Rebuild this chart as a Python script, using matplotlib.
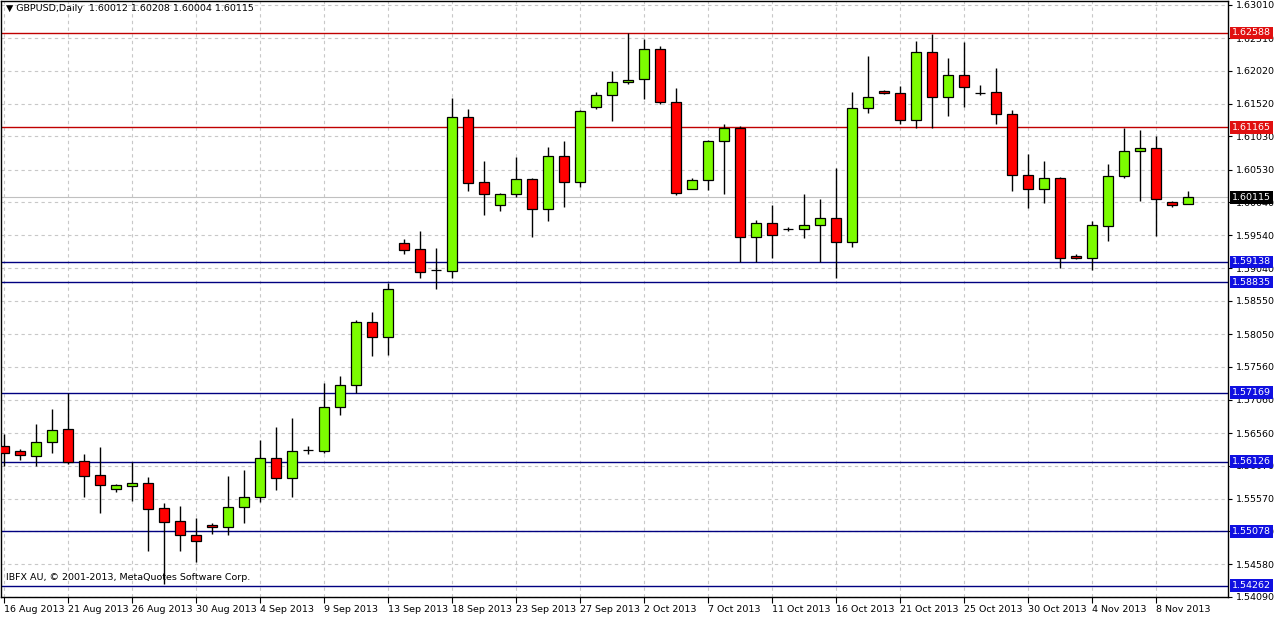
import matplotlib
matplotlib.use("Agg")
import matplotlib.pyplot as plt
import numpy as np

opens = [1.5636,1.5629,1.5621,1.5642,1.5662,1.5614,1.5593,1.5572,1.5576,1.5581,
         1.5543,1.5524,1.5503,1.5518,1.5515,1.5545,1.5560,1.5618,1.5588,1.5630,
         1.5629,1.5695,1.5729,1.5823,1.5800,1.5943,1.5934,1.5901,1.5900,1.6132,
         1.6034,1.6000,1.6016,1.6039,1.5993,1.6073,1.6035,1.6148,1.6166,1.6185,
         1.6190,1.6235,1.6155,1.6024,1.6037,1.6096,1.6116,1.5952,1.5973,1.5964,
         1.5964,1.5970,1.5980,1.5944,1.6146,1.6172,1.6169,1.6128,1.6230,1.6163,
         1.6196,1.6169,1.6170,1.6137,1.6045,1.6023,1.6041,1.5923,1.5920,1.5968,
         1.6044,1.6081,1.6086,1.6004,1.60012]
highs = [1.5655,1.5632,1.5670,1.5693,1.5716,1.5624,1.5635,1.5580,1.5612,1.5590,
         1.5551,1.5546,1.5528,1.5521,1.5591,1.5600,1.5645,1.5665,1.5678,1.5636,
         1.5731,1.5742,1.5826,1.5838,1.5882,1.5949,1.5961,1.5935,1.6161,1.6145,
         1.6066,1.6017,1.6072,1.6041,1.6087,1.6096,1.6143,1.6170,1.6202,1.6259,
         1.6250,1.6239,1.6176,1.6040,1.6097,1.6121,1.6118,1.5977,1.6000,1.5967,
         1.6016,1.6009,1.6055,1.6170,1.6224,1.6173,1.6179,1.6247,1.6257,1.6221,
         1.6245,1.6181,1.6206,1.6143,1.6076,1.6066,1.6042,1.5926,1.5976,1.6062,
         1.6116,1.6113,1.6104,1.6006,1.60208]
lows = [1.5606,1.5615,1.5606,1.5626,1.5610,1.5560,1.5536,1.5567,1.5553,1.5479,
        1.5428,1.5479,1.5461,1.5504,1.5503,1.5521,1.5552,1.5570,1.5560,1.5624,
        1.5626,1.5683,1.5716,1.5772,1.5773,1.5926,1.5890,1.5873,1.5889,1.6021,
        1.5984,1.5990,1.6012,1.5952,1.5976,1.5997,1.6027,1.6145,1.6126,1.6182,
        1.6160,1.6152,1.6015,1.6023,1.6022,1.6016,1.5913,1.5913,1.5920,1.5961,
        1.5950,1.5913,1.5890,1.5937,1.6139,1.6167,1.6122,1.6115,1.6116,1.6134,
        1.6148,1.6166,1.6122,1.6020,1.5995,1.6002,1.5905,1.5918,1.5902,1.5946,
        1.6041,1.6006,1.5953,1.5996,1.60004]
closes = [1.5626,1.5623,1.5643,1.5660,1.5612,1.5591,1.5578,1.5578,1.5581,1.5542,
          1.5522,1.5503,1.5494,1.5515,1.5545,1.5560,1.5618,1.5588,1.5629,1.5631,
          1.5695,1.5729,1.5823,1.5800,1.5873,1.5932,1.5898,1.5902,1.6132,1.6033,
          1.6016,1.6016,1.6039,1.5993,1.6073,1.6035,1.6142,1.6166,1.6185,1.6188,
          1.6235,1.6155,1.6017,1.6037,1.6096,1.6116,1.5952,1.5973,1.5955,1.5963,
          1.5970,1.5980,1.5944,1.6146,1.6163,1.6169,1.6128,1.6230,1.6163,1.6196,
          1.6178,1.6168,1.6137,1.6045,1.6023,1.6041,1.5920,1.5920,1.5970,1.6044,
          1.6081,1.6086,1.6009,1.5999,1.60115]

date_labels = ["16 Aug 2013","21 Aug 2013","26 Aug 2013","30 Aug 2013","4 Sep 2013",
               "9 Sep 2013","13 Sep 2013","18 Sep 2013","23 Sep 2013","27 Sep 2013",
               "2 Oct 2013","7 Oct 2013","11 Oct 2013","16 Oct 2013","21 Oct 2013",
               "25 Oct 2013","30 Oct 2013","4 Nov 2013","8 Nov 2013"]
ytick_vals = [1.63010,1.62510,1.62020,1.61520,1.61030,1.60530,1.60040,1.59540,1.59040,
              1.58550,1.58050,1.57560,1.57060,1.56560,1.56070,1.55570,1.55080,1.54580,1.54090]
red_levels = [1.62588,1.61165]
blue_levels = [1.59138,1.58835,1.57169,1.56126,1.55078,1.54262]
current = 1.60115

FS = 6.8
fig = plt.figure(figsize=(12.76,6.19), dpi=100)
ax = fig.add_axes([1/1276, 22/619, 1227/1276, 596/619])
ax.set_xlim(-0.2, 76.5)
ax.set_ylim(1.5409, 1.6307)

x = np.arange(len(opens))
o = np.array(opens); c = np.array(closes); h = np.array(highs); l = np.array(lows)
up = c >= o
ax.vlines(x, l, h, color='black', lw=1, zorder=3)
bot = np.minimum(o, c); ht = np.maximum(np.abs(c - o), 0.00003)
ax.bar(x, ht, bottom=bot, width=0.62, color=np.where(up, '#7CFC00', '#FF0000'),
       edgecolor='black', linewidth=0.9, zorder=4)

for t in ytick_vals:
    ax.axhline(t, color='#c8c8c8', ls=(0,(3,3)), lw=0.8, zorder=0)
xt = np.arange(0, 4*len(date_labels), 4)
for xx in xt:
    ax.axvline(xx, color='#c8c8c8', ls=(0,(3,3)), lw=0.8, zorder=0)

ax.axhline(current, color='#c0c0c0', lw=0.8, zorder=1)
for lv in red_levels:
    ax.axhline(lv, color='#c00000', lw=1, zorder=2)
for lv in blue_levels:
    ax.axhline(lv, color='#000080', lw=1, zorder=2)

ax.set_xticks(xt)
ax.set_xticklabels(date_labels, fontsize=FS, ha='left')
ax.tick_params(axis='x', length=4, pad=2)
ax.yaxis.tick_right()
ax.set_yticks(ytick_vals)
ax.set_yticklabels([f"{v:.5f}" for v in ytick_vals], fontsize=FS)
ax.tick_params(axis='y', length=3, pad=3)
for sp in ax.spines.values():
    sp.set_color('black'); sp.set_linewidth(1)

def tag(val, bg):
    ax.text(1.0035, val, f"{val:.5f}", transform=ax.get_yaxis_transform(), fontsize=FS,
            color='white', va='center', ha='left', zorder=10, clip_on=False,
            bbox=dict(boxstyle='square,pad=0.2', fc=bg, ec='none'))
for lv in red_levels: tag(lv, '#e01010')
for lv in blue_levels: tag(lv, '#1010e0')
tag(current, 'black')

ax.text(0.004, 0.995, "\u25BC GBPUSD,Daily  1.60012 1.60208 1.60004 1.60115", transform=ax.transAxes,
        fontsize=FS, va='top', ha='left')
ax.text(0.004, 0.025, "IBFX AU, \u00A9 2001-2013, MetaQuotes Software Corp.", transform=ax.transAxes,
        fontsize=FS, va='bottom', ha='left')

fig.savefig("out.png", dpi=100)
